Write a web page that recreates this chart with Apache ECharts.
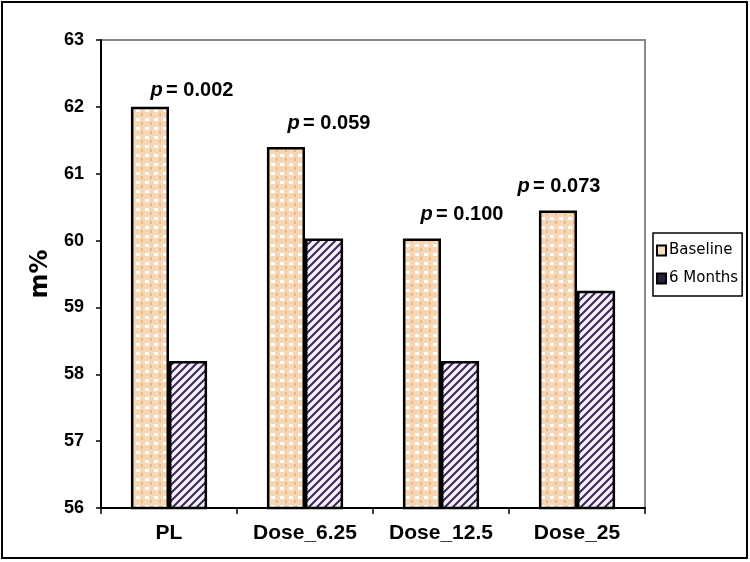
<!DOCTYPE html>
<html>
<head>
<meta charset="utf-8">
<script src="https://cdn.jsdelivr.net/npm/echarts@6/dist/echarts.min.js"></script>
<style>
    html, body { margin: 0; padding: 0; background: #fff; }
    #chart { width: 750px; height: 562px; }
</style>
</head>
<body>
<div id="chart"></div>
<script>
// 数据
const categories = ['PL', 'Dose_6.25', 'Dose_12.5', 'Dose_25']
const baseline = [62.0, 61.4, 60.03, 60.45]
const sixMonths = [58.2, 60.03, 58.2, 59.25]
const pValues = ['0.002', '0.059', '0.100', '0.073']
const yTicks = [56, 57, 58, 59, 60, 61, 62, 63]

// p 值标签相对柱顶的偏移（布局）
const pLabelOffsets = [[42, -1], [43, -8], [40, -9], [1, -9]]

// 米色格子填充
const checkerPattern = () => {
    const c = document.createElement('canvas')
    c.width = 9
    c.height = 9
    const ctx = c.getContext('2d')
    ctx.fillStyle = '#F6D7B5'
    ctx.fillRect(0, 0, 9, 9)
    ctx.fillStyle = '#FFFFFF'
    ctx.fillRect(1, 1, 4, 3)
    ctx.fillStyle = '#EDB888'
    ctx.fillRect(6, 5, 2, 3)
    return c
}

// 紫色斜线填充
const stripePattern = () => {
    const c = document.createElement('canvas')
    c.width = 8
    c.height = 8
    const ctx = c.getContext('2d')
    ctx.fillStyle = '#F8F1FB'
    ctx.fillRect(0, 0, 8, 8)
    ctx.strokeStyle = '#3B2A5A'
    ctx.lineWidth = 2.1
    ctx.beginPath()
    ctx.moveTo(-2, 10); ctx.lineTo(10, -2)
    ctx.moveTo(-2, 2); ctx.lineTo(2, -2)
    ctx.moveTo(6, 10); ctx.lineTo(10, 6)
    ctx.stroke()
    return c
}

const drawChart = () => {
    const chart = echarts.init(document.getElementById('chart'), null, {renderer: 'canvas'})

    const option = {
        animation: false,
        backgroundColor: '#fff',
        graphic: [{
            type: 'rect',
            shape: {x: 2, y: 2, width: 745, height: 556},
            style: {fill: 'none', stroke: '#000', lineWidth: 2},
            z: 100
        }],
        grid: {
            left: 101,
            right: 105,
            top: 40,
            bottom: 54,
            show: true,
            borderColor: '#888',
            borderWidth: 2
        },
        legend: {
            orient: 'vertical',
            left: 653,
            top: 233,
            padding: [10, 4, 10, 3],
            borderColor: '#000',
            borderWidth: 1.5,
            itemGap: 13,
            itemWidth: 9,
            itemHeight: 10,
            icon: 'rect',
            textStyle: {
                fontFamily: 'DejaVu Sans',
                fontSize: 15,
                color: '#000',
                padding: [0, 0, 0, -2]
            },
            data: [
                {name: 'Baseline', itemStyle: {color: '#F6DDC2', borderColor: '#000', borderWidth: 2}},
                {name: '6 Months', itemStyle: {color: '#2c2040', borderColor: '#000', borderWidth: 2}}
            ]
        },
        xAxis: {
            type: 'category',
            data: categories,
            axisLine: {lineStyle: {color: '#000', width: 2}},
            axisTick: {show: true, length: 6, lineStyle: {color: '#000', width: 1.5}},
            axisLabel: {
                margin: 15,
                fontFamily: 'Liberation Sans',
                fontWeight: 'bold',
                fontSize: 21,
                color: '#000'
            }
        },
        yAxis: {
            type: 'value',
            min: yTicks[0],
            max: yTicks[yTicks.length - 1],
            interval: 1,
            name: 'm%',
            nameLocation: 'middle',
            nameGap: 42,
            nameTextStyle: {
                fontFamily: 'DejaVu Sans',
                fontWeight: 'bold',
                fontSize: 24,
                color: '#000'
            },
            splitLine: {show: false},
            axisLine: {show: true, lineStyle: {color: '#000', width: 2}},
            axisTick: {show: true, length: 5, lineStyle: {color: '#000', width: 1.5}},
            axisLabel: {
                margin: 17,
                fontFamily: 'Liberation Sans',
                fontWeight: 'bold',
                fontSize: 18,
                color: '#000'
            }
        },
        series: [
            {
                name: 'Baseline',
                type: 'bar',
                barGap: '0%',
                barCategoryGap: '44%',
                itemStyle: {
                    color: {image: checkerPattern(), repeat: 'repeat'},
                    borderColor: '#000',
                    borderWidth: 2.5
                },
                label: {
                    show: true,
                    position: 'top',
                    distance: 5,
                    rich: {
                        p: {fontFamily: 'Liberation Sans', fontStyle: 'italic', fontWeight: 'bold', fontSize: 20, color: '#000'},
                        t: {fontFamily: 'Liberation Sans', fontWeight: 'bold', fontSize: 20, color: '#000'}
                    }
                },
                data: baseline.map((v, i) => ({
                    value: v,
                    label: {
                        offset: pLabelOffsets[i],
                        formatter: '{p|p} {t|= ' + pValues[i] + '}'
                    }
                }))
            },
            {
                name: '6 Months',
                type: 'bar',
                itemStyle: {
                    color: {image: stripePattern(), repeat: 'repeat'},
                    borderColor: '#000',
                    borderWidth: 2.5
                },
                data: sixMonths
            }
        ]
    }
    chart.setOption(option)
}

drawChart()
</script>
</body>
</html>
